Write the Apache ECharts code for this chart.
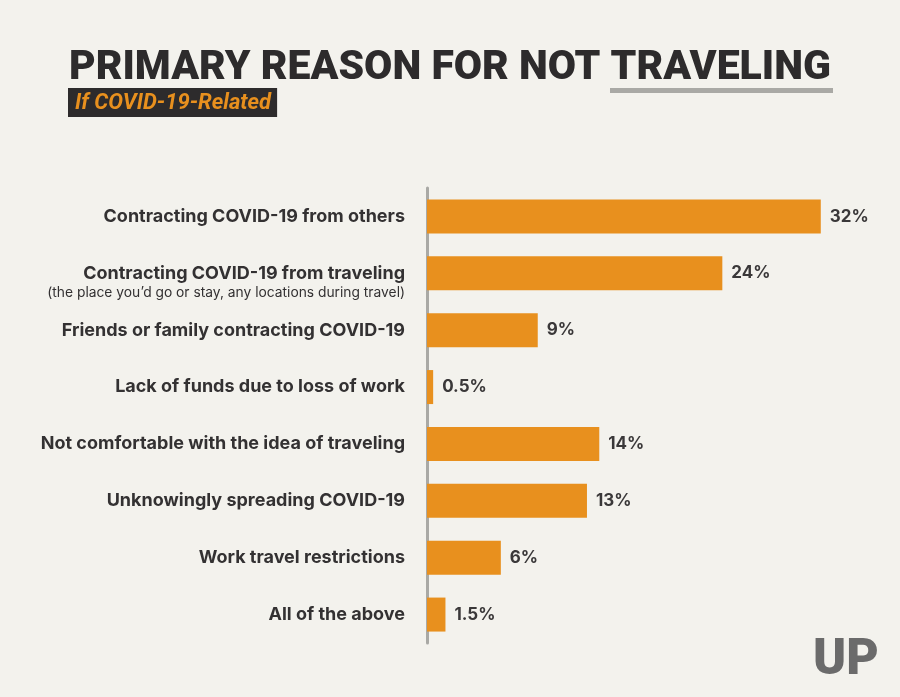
<!DOCTYPE html>
<html>
<head>
<meta charset="utf-8">
<script src="https://cdn.jsdelivr.net/npm/echarts@6/dist/echarts.min.js"></script>
<style>
  html, body { margin: 0; padding: 0; background: #f3f2ed; }
  #chart { width: 900px; height: 697px; }
</style>
</head>
<body>
<div id="chart"></div>
<script>
// reasons, top to bottom
const categories = [
  'Contracting COVID-19 from others',
  'Contracting COVID-19 from traveling',
  'Friends or family contracting COVID-19',
  'Lack of funds due to loss of work',
  'Not comfortable with the idea of traveling',
  'Unknowingly spreading COVID-19',
  'Work travel restrictions',
  'All of the above'
];
const values = [32, 24, 9, 0.5, 14, 13, 6, 1.5];
// small second line under a reason
const notes = {
  'Contracting COVID-19 from traveling': '(the place you\u2019d go or stay, any locations during travel)'
};

const chart = echarts.init(document.getElementById('chart'));

const option = {
  backgroundColor: '#f3f2ed',
  animation: false,
  title: [
    {
      text: 'PRIMARY REASON FOR NOT TRAVELING',
      left: 64,
      top: 43,
      textStyle: {
        fontFamily: 'Roboto',
        fontWeight: 900,
        fontSize: 41,
        color: '#2d2b2c'
      }
    },
    {
      text: 'If COVID-19-Related',
      left: 68,
      top: 88,
      padding: [4, 6, 3, 7],
      backgroundColor: '#2d2b2c',
      textStyle: {
        fontFamily: 'Roboto',
        fontStyle: 'italic',
        fontWeight: 'bold',
        fontSize: 22,
        color: '#e8901e'
      }
    }
  ],
  grid: {
    left: 427,
    right: 30,
    top: 188,
    bottom: 54,
    containLabel: false
  },
  xAxis: {
    type: 'value',
    min: 0,
    max: 36,
    show: false
  },
  yAxis: {
    type: 'category',
    inverse: true,
    data: categories,
    axisTick: { show: false },
    axisLine: { show: true, lineStyle: { color: '#a9a9a5', width: 3 } },
    axisLabel: {
      margin: 22,
      formatter: function (name) {
        if (notes[name]) {
          return '{sp| }\n{b|' + name + '}\n{s|' + notes[name] + '}';
        }
        return '{b|' + name + '}';
      },
      rich: {
        sp: { fontSize: 1, lineHeight: 19 },
        b: {
          fontFamily: 'Inter',
          fontWeight: 'bold',
          fontSize: 18,
          lineHeight: 21,
          color: '#333132',
          align: 'right'
        },
        s: {
          fontFamily: 'Inter',
          fontSize: 13.8,
          lineHeight: 19,
          color: '#333132',
          align: 'right'
        }
      }
    }
  },
  series: [
    {
      type: 'bar',
      data: values,
      barWidth: 34,
      itemStyle: { color: '#e8901e' },
      label: {
        show: true,
        position: 'right',
        distance: 9,
        formatter: '{c}%',
        fontFamily: 'Inter',
        fontWeight: 'bold',
        fontSize: 17,
        color: '#3a3839'
      }
    }
  ],
  graphic: [
    {
      type: 'rect',
      shape: { x: 610, y: 88, width: 223, height: 5 },
      style: { fill: '#a9a9a5' }
    },
    {
      type: 'text',
      left: 813,
      top: 636,
      style: {
        text: 'UP',
        font: '900 50px "Roboto"',
        fill: '#6b6b6b'
      }
    }
  ]
};

chart.setOption(option);
</script>
</body>
</html>
